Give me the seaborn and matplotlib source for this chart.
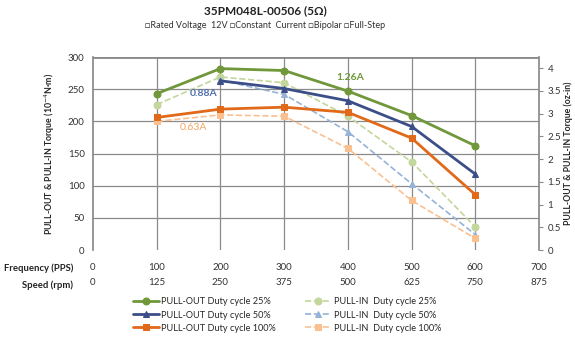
import numpy as np
import matplotlib
matplotlib.use("Agg")
import matplotlib.pyplot as plt
import seaborn as sns

sns.set_theme(style="white")
plt.rcParams["font.family"] = ["Lato", "DejaVu Sans"]

freq = [100, 200, 300, 400, 500, 600]
pullout_25 = [243, 282, 279, 247, 209, 162]
pullin_25 = [226, 269, 260, 208, 137, 36]
pullout_50 = [np.nan, 263, 251, 232, 192, 118]
pullin_50 = [np.nan, 264, 242, 184, 103, 24]
pullout_100 = [206, 219, 222, 214, 174, 86]
pullin_100 = [200, 210, 208, 158, 77, 18]

freq_ticks = [0, 100, 200, 300, 400, 500, 600, 700]
rpm_per_pps = 1.25
ozin_per_unit = 0.01416  # 1e-4 N·m -> oz-in

series = [
    ("PULL-OUT Duty cycle 25%", pullout_25, "#70973a", "o", True),
    ("PULL-OUT Duty cycle 50%", pullout_50, "#3b4e87", "^", True),
    ("PULL-OUT Duty cycle 100%", pullout_100, "#e0691a", "s", True),
    ("PULL-IN  Duty cycle 25%", pullin_25, "#c3d69b", "o", False),
    ("PULL-IN  Duty cycle 50%", pullin_50, "#95b3d7", "^", False),
    ("PULL-IN  Duty cycle 100%", pullin_100, "#fac090", "s", False),
]

fig = plt.figure(figsize=(5.75, 3.4), dpi=100)
ax = fig.add_axes([0.1617, 0.2647, 0.7757, 0.5676])

ax.set_axisbelow(True)
for y in range(50, 300, 50):
    ax.axhline(y, color="#8a8a8a", lw=0.9, zorder=0)
for x in range(100, 700, 100):
    ax.axvline(x, color="#8a8a8a", lw=0.9, zorder=0)
ax.axhline(300, color="#8a8a8a", lw=2, zorder=0)

# pull-in first so pull-out sits on top
for label, vals, col, mk, solid in series[3:] + series[:3]:
    sns.lineplot(x=freq, y=vals, ax=ax, color=col, marker=mk,
                 markersize=5 if mk != "^" else 4.5, markeredgecolor=col,
                 lw=2.0 if solid else 1.2,
                 dashes=False if solid else (5, 3),
                 linestyle="-" if solid else "--",
                 label=label, legend=False, zorder=3 if solid else 2)

ax.set_xlim(0, 700)
ax.set_ylim(0, 300)
ax.set_xticks(freq_ticks)
ax.set_yticks(range(0, 301, 50))
ax.tick_params(axis="x", length=0, pad=9, labelsize=7, colors="#333333")
ax.tick_params(axis="y", length=0, pad=6, labelsize=7, colors="#333333")
for s in ["top", "right", "bottom"]:
    ax.spines[s].set_visible(False)
ax.spines["left"].set_color("#8a8a8a")
ax.set_ylabel("PULL-OUT & PULL-IN Torque (10$^{-4}$N·m)", fontsize=6.3,
              fontweight="bold", labelpad=8)

ax2 = ax.twinx()
ax2.set_ylim(0, 300 * ozin_per_unit)
ax2.set_yticks(np.arange(0, 4.01, 0.5))
ax2.set_yticklabels(["0", "0.5", "1", "1.5", "2", "2.5", "3", "3.5", "4"])
ax2.tick_params(axis="y", length=3, width=0.8, color="#8a8a8a", pad=3,
                labelsize=7, labelcolor="#333333")
for s in ["top", "left", "bottom"]:
    ax2.spines[s].set_visible(False)
ax2.spines["right"].set_color("#8a8a8a")
ax2.set_ylabel("PULL-OUT & PULL-IN Torque (oz-in)", fontsize=6.3,
               fontweight="bold", labelpad=2)
ax2.grid(False)

sec = ax.secondary_xaxis(-0.09, functions=(lambda x: x * rpm_per_pps,
                                           lambda x: x / rpm_per_pps))
sec.set_xticks([f * rpm_per_pps for f in freq_ticks])
sec.set_xticklabels([f"{f * rpm_per_pps:g}" for f in freq_ticks])
sec.tick_params(length=0, pad=8, labelsize=7, colors="#333333")
sec.spines["bottom"].set_visible(False)

fig.text(73 / 575, 1 - 268 / 340, "Frequency (PPS)", ha="right", va="center",
         fontsize=6.8, fontweight="bold", color="#222222")
fig.text(73 / 575, 1 - 285 / 340, "Speed (rpm)", ha="right", va="center",
         fontsize=6.8, fontweight="bold", color="#222222")

ax.text(204 / 575, 1 - 94 / 340, "0.88A", transform=fig.transFigure, ha="center",
        va="center", fontsize=7.5, fontweight="bold", color="#4f6fae")
ax.text(350 / 575, 1 - 78 / 340, "1.26A", transform=fig.transFigure, ha="center",
        va="center", fontsize=7.5, fontweight="bold", color="#70973a")
ax.text(193 / 575, 1 - 127 / 340, "0.63A", transform=fig.transFigure, ha="center",
        va="center", fontsize=7.5, color="#f4a460")

fig.text(265 / 575, 1 - 11 / 340, "35PM048L-00506 (5Ω)", ha="center", va="center",
         fontsize=8.5, fontweight="bold", color="#222222")
fig.text(265 / 575, 1 - 25 / 340,
         "□Rated Voltage  12V □Constant  Current □Bipolar □Full-Step",
         ha="center", va="center", fontsize=6.5, color="#333333",
         family=["Lato", "DejaVu Sans"])

lab_handles = {}
for h in ax.get_lines():
    if not h.get_label().startswith("_"):
        lab_handles[h.get_label()] = h
order = [s[0] for s in series]
fig.legend([lab_handles[k] for k in order], order, ncol=2,
           loc="center", bbox_to_anchor=(287 / 575, 1 - 315 / 340),
           frameon=False, fontsize=6.6, handlelength=2.8,
           columnspacing=3.2, labelspacing=0.45, handletextpad=0.3)

fig.savefig("out.png", dpi=100)
